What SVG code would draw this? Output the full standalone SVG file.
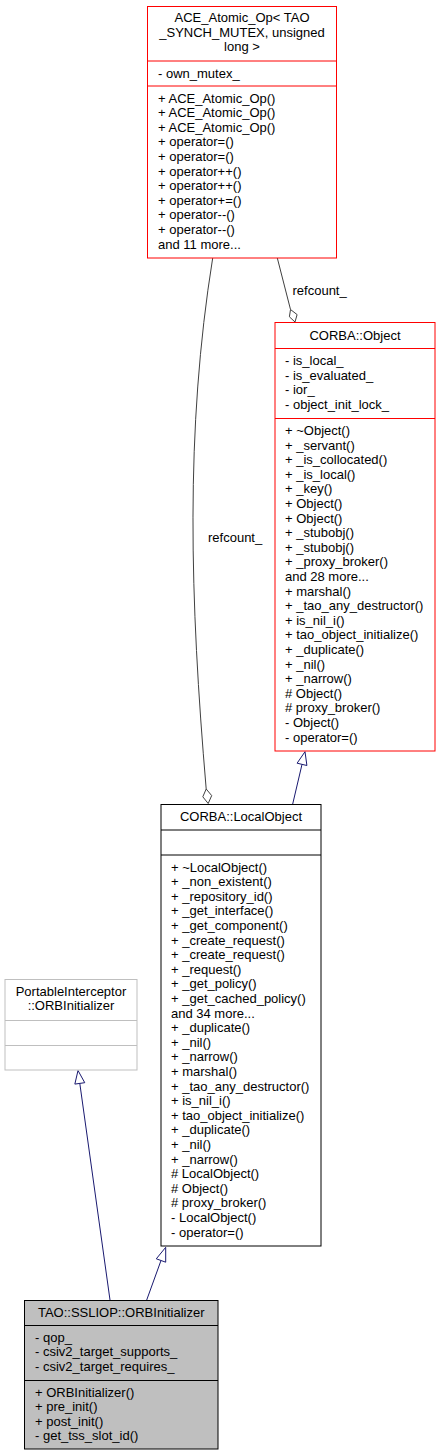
<svg xmlns="http://www.w3.org/2000/svg" width="440" height="1456" viewBox="0 0 440 1456">
<style>
text{font-family:"Liberation Sans",Arial,Helvetica,sans-serif;font-size:13px;fill:#000}
.c{text-anchor:middle}
.box{fill:#fff;stroke:#000;stroke-width:1}
.red{stroke:#ff0000}
.grey{stroke:#bfbfbf}
.sel{fill:#bfbfbf}
.div{stroke:#000;stroke-width:1}
.divr{stroke:#ff0000;stroke-width:1}
.divg{stroke:#bfbfbf;stroke-width:1}
.inh{fill:none;stroke:#191970;stroke-width:1}
.inhh{fill:#fff;stroke:#191970;stroke-width:1}
.agg{fill:none;stroke:#404040;stroke-width:1}
.aggh{fill:#fff;stroke:#404040;stroke-width:1}
</style>
<rect width="440" height="1456" fill="#fff"/>
<g id="connectors">
<path class="agg" d="M277.3,258 L290.5,309.5"/>
<polygon class="aggh" points="290.5,309.5 297.1,314.6 295,322 289.4,316.8"/>
<text x="292.5" y="294.5">refcount_</text>
<path class="agg" d="M212.7,258 C185,430 190,600 206.2,789"/>
<polygon class="aggh" points="206.2,789 211.7,795.6 208.2,803.5 202.8,796.8"/>
<text x="208" y="541.5">refcount_</text>
<path class="inh" d="M292.7,804 L302,764.4"/>
<polygon class="inhh" points="305,751.7 306.9,765.5 297.1,763.2"/>
<path class="inh" d="M110,1300 L79.8,1083.4"/>
<polygon class="inhh" points="78,1070.5 84.75,1082.7 74.85,1084.1"/>
<path class="inh" d="M146.7,1300 L161,1260.5"/>
<polygon class="inhh" points="165.7,1247.3 165.7,1262.2 156.3,1258.8"/>
</g>
<g id="ace_atomic_op">
<rect class="box red" x="147.5" y="6.5" width="189" height="251.5"/>
<line class="divr" x1="147.5" y1="61" x2="336.5" y2="61"/>
<line class="divr" x1="147.5" y1="86" x2="336.5" y2="86"/>
<text class="c" x="242" y="22">ACE_Atomic_Op&lt; TAO</text>
<text class="c" x="242" y="36.6">_SYNCH_MUTEX, unsigned</text>
<text class="c" x="242" y="51.2">long &gt;</text>
<text x="158" y="77.5">- own_mutex_</text>
<text x="158" y="102.5">+ ACE_Atomic_Op()<tspan x="158" dy="14.6">+ ACE_Atomic_Op()</tspan><tspan x="158" dy="14.6">+ ACE_Atomic_Op()</tspan><tspan x="158" dy="14.6">+ operator=()</tspan><tspan x="158" dy="14.6">+ operator=()</tspan><tspan x="158" dy="14.6">+ operator++()</tspan><tspan x="158" dy="14.6">+ operator++()</tspan><tspan x="158" dy="14.6">+ operator+=()</tspan><tspan x="158" dy="14.6">+ operator--()</tspan><tspan x="158" dy="14.6">+ operator--()</tspan><tspan x="158" dy="14.6">and 11 more...</tspan></text>
</g>
<g id="corba_object">
<rect class="box red" x="275" y="322.5" width="160" height="428.5"/>
<line class="divr" x1="275" y1="348.5" x2="435" y2="348.5"/>
<line class="divr" x1="275" y1="418.5" x2="435" y2="418.5"/>
<text class="c" x="355" y="339.5">CORBA::Object</text>
<text x="285" y="365">- is_local_<tspan x="285" dy="14.6">- is_evaluated_</tspan><tspan x="285" dy="14.6">- ior_</tspan><tspan x="285" dy="14.6">- object_init_lock_</tspan></text>
<text x="285" y="435">+ ~Object()<tspan x="285" dy="14.6">+ _servant()</tspan><tspan x="285" dy="14.6">+ _is_collocated()</tspan><tspan x="285" dy="14.6">+ _is_local()</tspan><tspan x="285" dy="14.6">+ _key()</tspan><tspan x="285" dy="14.6">+ Object()</tspan><tspan x="285" dy="14.6">+ Object()</tspan><tspan x="285" dy="14.6">+ _stubobj()</tspan><tspan x="285" dy="14.6">+ _stubobj()</tspan><tspan x="285" dy="14.6">+ _proxy_broker()</tspan><tspan x="285" dy="14.6">and 28 more...</tspan><tspan x="285" dy="14.6">+ marshal()</tspan><tspan x="285" dy="14.6">+ _tao_any_destructor()</tspan><tspan x="285" dy="14.6">+ is_nil_i()</tspan><tspan x="285" dy="14.6">+ tao_object_initialize()</tspan><tspan x="285" dy="14.6">+ _duplicate()</tspan><tspan x="285" dy="14.6">+ _nil()</tspan><tspan x="285" dy="14.6">+ _narrow()</tspan><tspan x="285" dy="14.6"># Object()</tspan><tspan x="285" dy="14.6"># proxy_broker()</tspan><tspan x="285" dy="14.6">- Object()</tspan><tspan x="285" dy="14.6">- operator=()</tspan></text>
</g>
<g id="corba_localobject">
<rect class="box" x="161" y="804.5" width="160" height="441.5"/>
<line class="div" x1="161" y1="830" x2="321" y2="830"/>
<line class="div" x1="161" y1="855" x2="321" y2="855"/>
<text class="c" x="241" y="821">CORBA::LocalObject</text>
<text x="171" y="871.5">+ ~LocalObject()<tspan x="171" dy="14.6">+ _non_existent()</tspan><tspan x="171" dy="14.6">+ _repository_id()</tspan><tspan x="171" dy="14.6">+ _get_interface()</tspan><tspan x="171" dy="14.6">+ _get_component()</tspan><tspan x="171" dy="14.6">+ _create_request()</tspan><tspan x="171" dy="14.6">+ _create_request()</tspan><tspan x="171" dy="14.6">+ _request()</tspan><tspan x="171" dy="14.6">+ _get_policy()</tspan><tspan x="171" dy="14.6">+ _get_cached_policy()</tspan><tspan x="171" dy="14.6">and 34 more...</tspan><tspan x="171" dy="14.6">+ _duplicate()</tspan><tspan x="171" dy="14.6">+ _nil()</tspan><tspan x="171" dy="14.6">+ _narrow()</tspan><tspan x="171" dy="14.6">+ marshal()</tspan><tspan x="171" dy="14.6">+ _tao_any_destructor()</tspan><tspan x="171" dy="14.6">+ is_nil_i()</tspan><tspan x="171" dy="14.6">+ tao_object_initialize()</tspan><tspan x="171" dy="14.6">+ _duplicate()</tspan><tspan x="171" dy="14.6">+ _nil()</tspan><tspan x="171" dy="14.6">+ _narrow()</tspan><tspan x="171" dy="14.6"># LocalObject()</tspan><tspan x="171" dy="14.6"># Object()</tspan><tspan x="171" dy="14.6"># proxy_broker()</tspan><tspan x="171" dy="14.6">- LocalObject()</tspan><tspan x="171" dy="14.6">- operator=()</tspan></text>
</g>
<g id="portableinterceptor_orbinitializer">
<rect class="box grey" x="5" y="979.5" width="132" height="90.5"/>
<line class="divg" x1="5" y1="1020.5" x2="137" y2="1020.5"/>
<line class="divg" x1="5" y1="1045.5" x2="137" y2="1045.5"/>
<text class="c" x="71" y="995.5">PortableInterceptor</text>
<text class="c" x="71" y="1010.1">::ORBInitializer</text>
</g>
<g id="tao_sslip_orbinitializer">
<rect class="box sel" x="24.5" y="1300.5" width="193.5" height="148.5"/>
<line class="div" x1="24.5" y1="1325.5" x2="218" y2="1325.5"/>
<line class="div" x1="24.5" y1="1380.5" x2="218" y2="1380.5"/>
<text class="c" x="121.25" y="1317">TAO::SSLIOP::ORBInitializer</text>
<text x="35" y="1341.5">- qop_<tspan x="35" dy="14.6">- csiv2_target_supports_</tspan><tspan x="35" dy="14.6">- csiv2_target_requires_</tspan></text>
<text x="35" y="1396.5">+ ORBInitializer()<tspan x="35" dy="14.6">+ pre_init()</tspan><tspan x="35" dy="14.6">+ post_init()</tspan><tspan x="35" dy="14.6">- get_tss_slot_id()</tspan></text>
</g>
</svg>
